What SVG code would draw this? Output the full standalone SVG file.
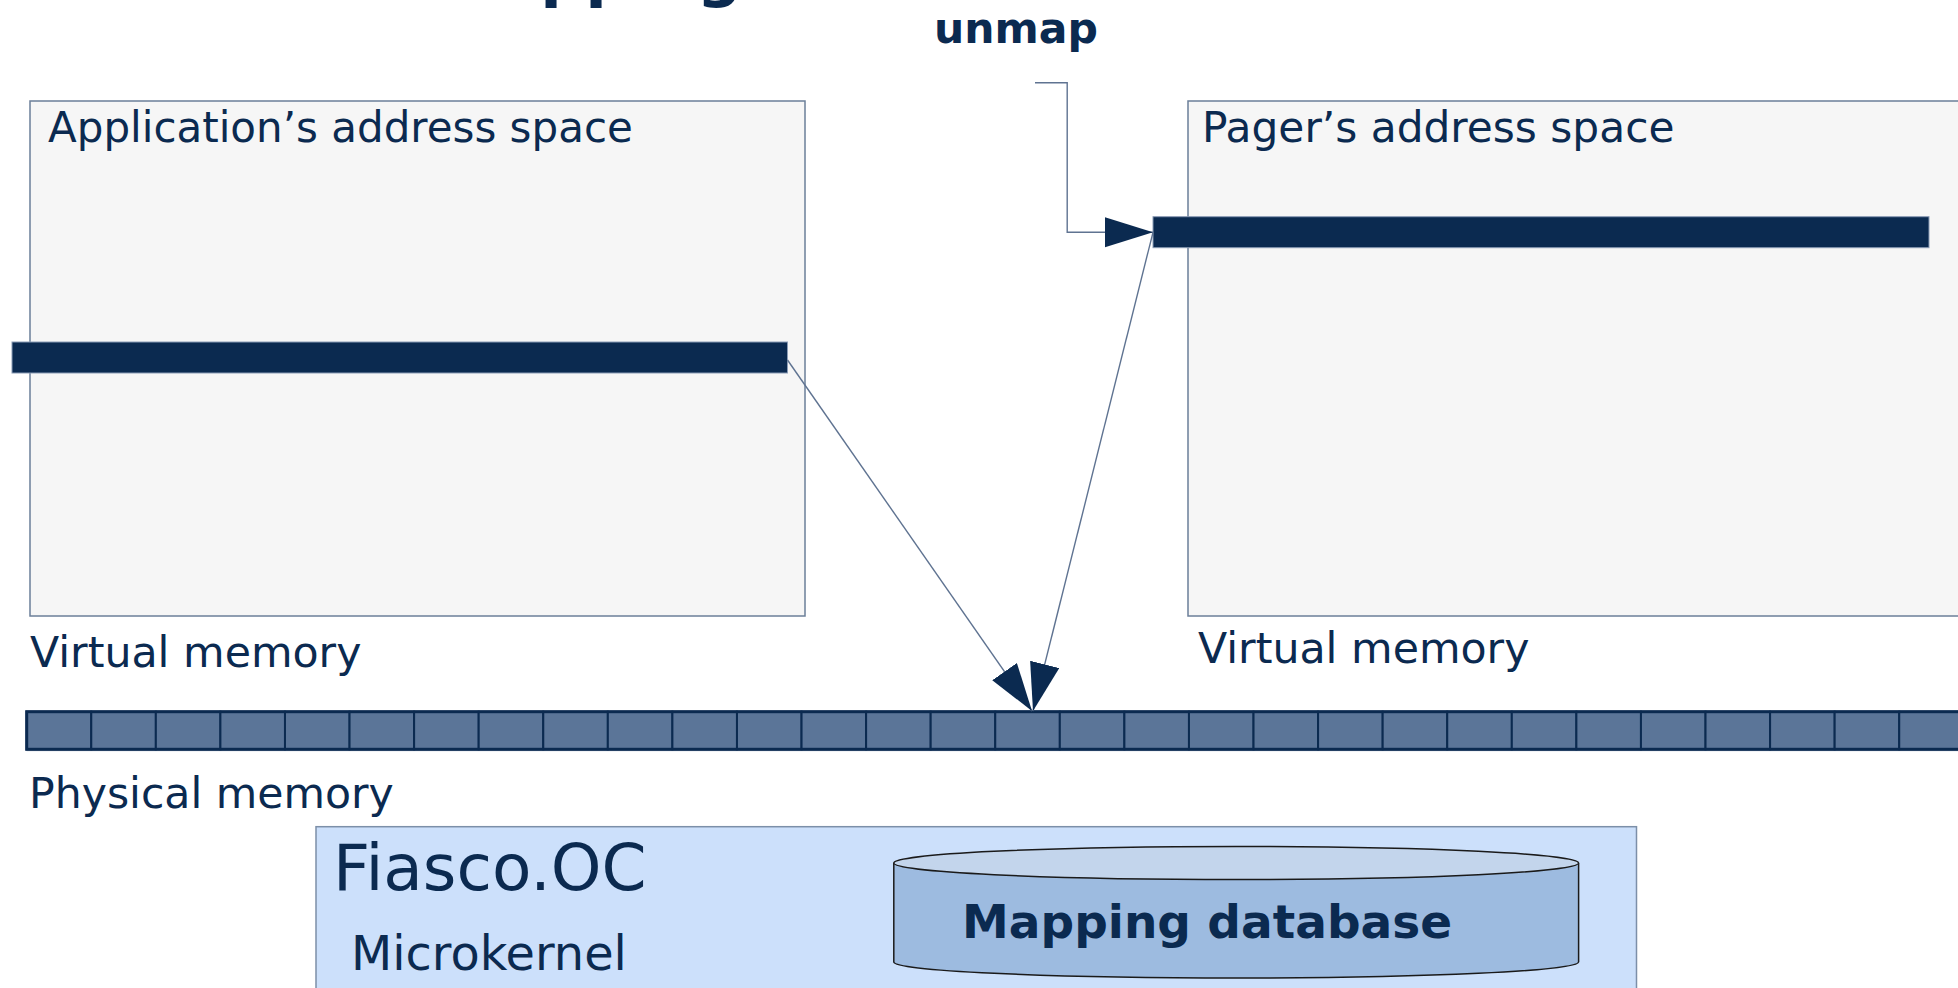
<svg xmlns="http://www.w3.org/2000/svg" width="1958" height="988" viewBox="0 0 1958 988">
<style>
.t{font-family:"DejaVu Sans","Liberation Sans",sans-serif;fill:#0b2a50}
.b{font-weight:bold}
.space{fill:#f6f6f6;stroke:#6b7f99;stroke-width:1.5}
.bar{fill:#0b2a50;stroke:#8a9bb5;stroke-width:1}
.cell{fill:#5b7598;stroke:#0b2a50;stroke-width:2}
.conn{fill:none;stroke:#5f7391;stroke-width:1.4}
</style>
<defs>
<marker id="ah" markerUnits="userSpaceOnUse" markerWidth="50" markerHeight="32" refX="48" refY="15" orient="auto">
<path d="M0,0 L48,15 L0,30 Z" fill="#0b2a50"/>
</marker>
</defs>
<text class="t b" x="435" y="-5" font-size="63">Mapping</text>
<g id="app">
<rect class="space" x="30" y="101" width="775" height="515"/>
<text class="t" x="48" y="142" font-size="42">Application’s address space</text>
<rect class="bar" x="12" y="342" width="775.5" height="31"/>
</g>
<g id="pager">
<rect class="space" x="1188" y="101" width="790" height="515"/>
<text class="t" x="1202" y="142" font-size="42.3">Pager’s address space</text>
<rect class="bar" x="1153" y="216.7" width="776" height="31"/>
</g>
<g id="labels">
<text class="t b" x="934" y="43" font-size="42.5">unmap</text>
<text class="t" x="30" y="667" font-size="42.7">Virtual memory</text>
<text class="t" x="1198" y="663" font-size="42.7">Virtual memory</text>
<text class="t" x="29" y="808" font-size="42.6">Physical memory</text>
</g>
<g id="physical">
<line x1="26.7" y1="750.5" x2="1958" y2="750.5" stroke="#c8d0dc" stroke-width="1.5"/>
<rect class="cell" x="26.7" y="711.7" width="64.57" height="37.6"/>
<rect class="cell" x="91.27" y="711.7" width="64.57" height="37.6"/>
<rect class="cell" x="155.84" y="711.7" width="64.57" height="37.6"/>
<rect class="cell" x="220.41" y="711.7" width="64.57" height="37.6"/>
<rect class="cell" x="284.98" y="711.7" width="64.57" height="37.6"/>
<rect class="cell" x="349.55" y="711.7" width="64.57" height="37.6"/>
<rect class="cell" x="414.12" y="711.7" width="64.57" height="37.6"/>
<rect class="cell" x="478.69" y="711.7" width="64.57" height="37.6"/>
<rect class="cell" x="543.26" y="711.7" width="64.57" height="37.6"/>
<rect class="cell" x="607.83" y="711.7" width="64.57" height="37.6"/>
<rect class="cell" x="672.4" y="711.7" width="64.57" height="37.6"/>
<rect class="cell" x="736.97" y="711.7" width="64.57" height="37.6"/>
<rect class="cell" x="801.54" y="711.7" width="64.57" height="37.6"/>
<rect class="cell" x="866.11" y="711.7" width="64.57" height="37.6"/>
<rect class="cell" x="930.68" y="711.7" width="64.57" height="37.6"/>
<rect class="cell" x="995.25" y="711.7" width="64.57" height="37.6"/>
<rect class="cell" x="1059.82" y="711.7" width="64.57" height="37.6"/>
<rect class="cell" x="1124.39" y="711.7" width="64.57" height="37.6"/>
<rect class="cell" x="1188.96" y="711.7" width="64.57" height="37.6"/>
<rect class="cell" x="1253.53" y="711.7" width="64.57" height="37.6"/>
<rect class="cell" x="1318.1" y="711.7" width="64.57" height="37.6"/>
<rect class="cell" x="1382.67" y="711.7" width="64.57" height="37.6"/>
<rect class="cell" x="1447.24" y="711.7" width="64.57" height="37.6"/>
<rect class="cell" x="1511.81" y="711.7" width="64.57" height="37.6"/>
<rect class="cell" x="1576.38" y="711.7" width="64.57" height="37.6"/>
<rect class="cell" x="1640.95" y="711.7" width="64.57" height="37.6"/>
<rect class="cell" x="1705.52" y="711.7" width="64.57" height="37.6"/>
<rect class="cell" x="1770.09" y="711.7" width="64.57" height="37.6"/>
<rect class="cell" x="1834.66" y="711.7" width="64.57" height="37.6"/>
<rect class="cell" x="1899.23" y="711.7" width="64.57" height="37.6"/>
<rect x="26.7" y="711.7" width="1940" height="37.6" fill="none" stroke="#0b2a50" stroke-width="3"/>
</g>
<g id="kernel">
<rect x="316" y="826.7" width="1320.5" height="180" fill="#cce0fb" stroke="#7c8fa8" stroke-width="1.5"/>
<text class="t" x="333" y="890" font-size="64.5">Fiasco.OC</text>
<text class="t" x="351" y="970" font-size="47.8">Microkernel</text>
</g>
<g id="mapdb">
<path d="M893.8,863 L893.8,962 A342.4,16 0 0 0 1578.6,962 L1578.6,863" fill="#9dbbe0" stroke="#1a1a1a" stroke-width="1.5"/>
<ellipse cx="1236.2" cy="863" rx="342.4" ry="16.5" fill="#c3d5ec" stroke="#1a1a1a" stroke-width="1.5"/>
<text class="t b" x="962" y="938" font-size="47">Mapping database</text>
</g>
<g id="connectors">
<path class="conn" d="M1035,82.7 H1067.2 V232.3 H1153" marker-end="url(#ah)"/>
<path class="conn" d="M787.5,360 L1032,711" marker-end="url(#ah)"/>
<path class="conn" d="M1153,232.3 L1033,711" marker-end="url(#ah)"/>
</g>
</svg>
